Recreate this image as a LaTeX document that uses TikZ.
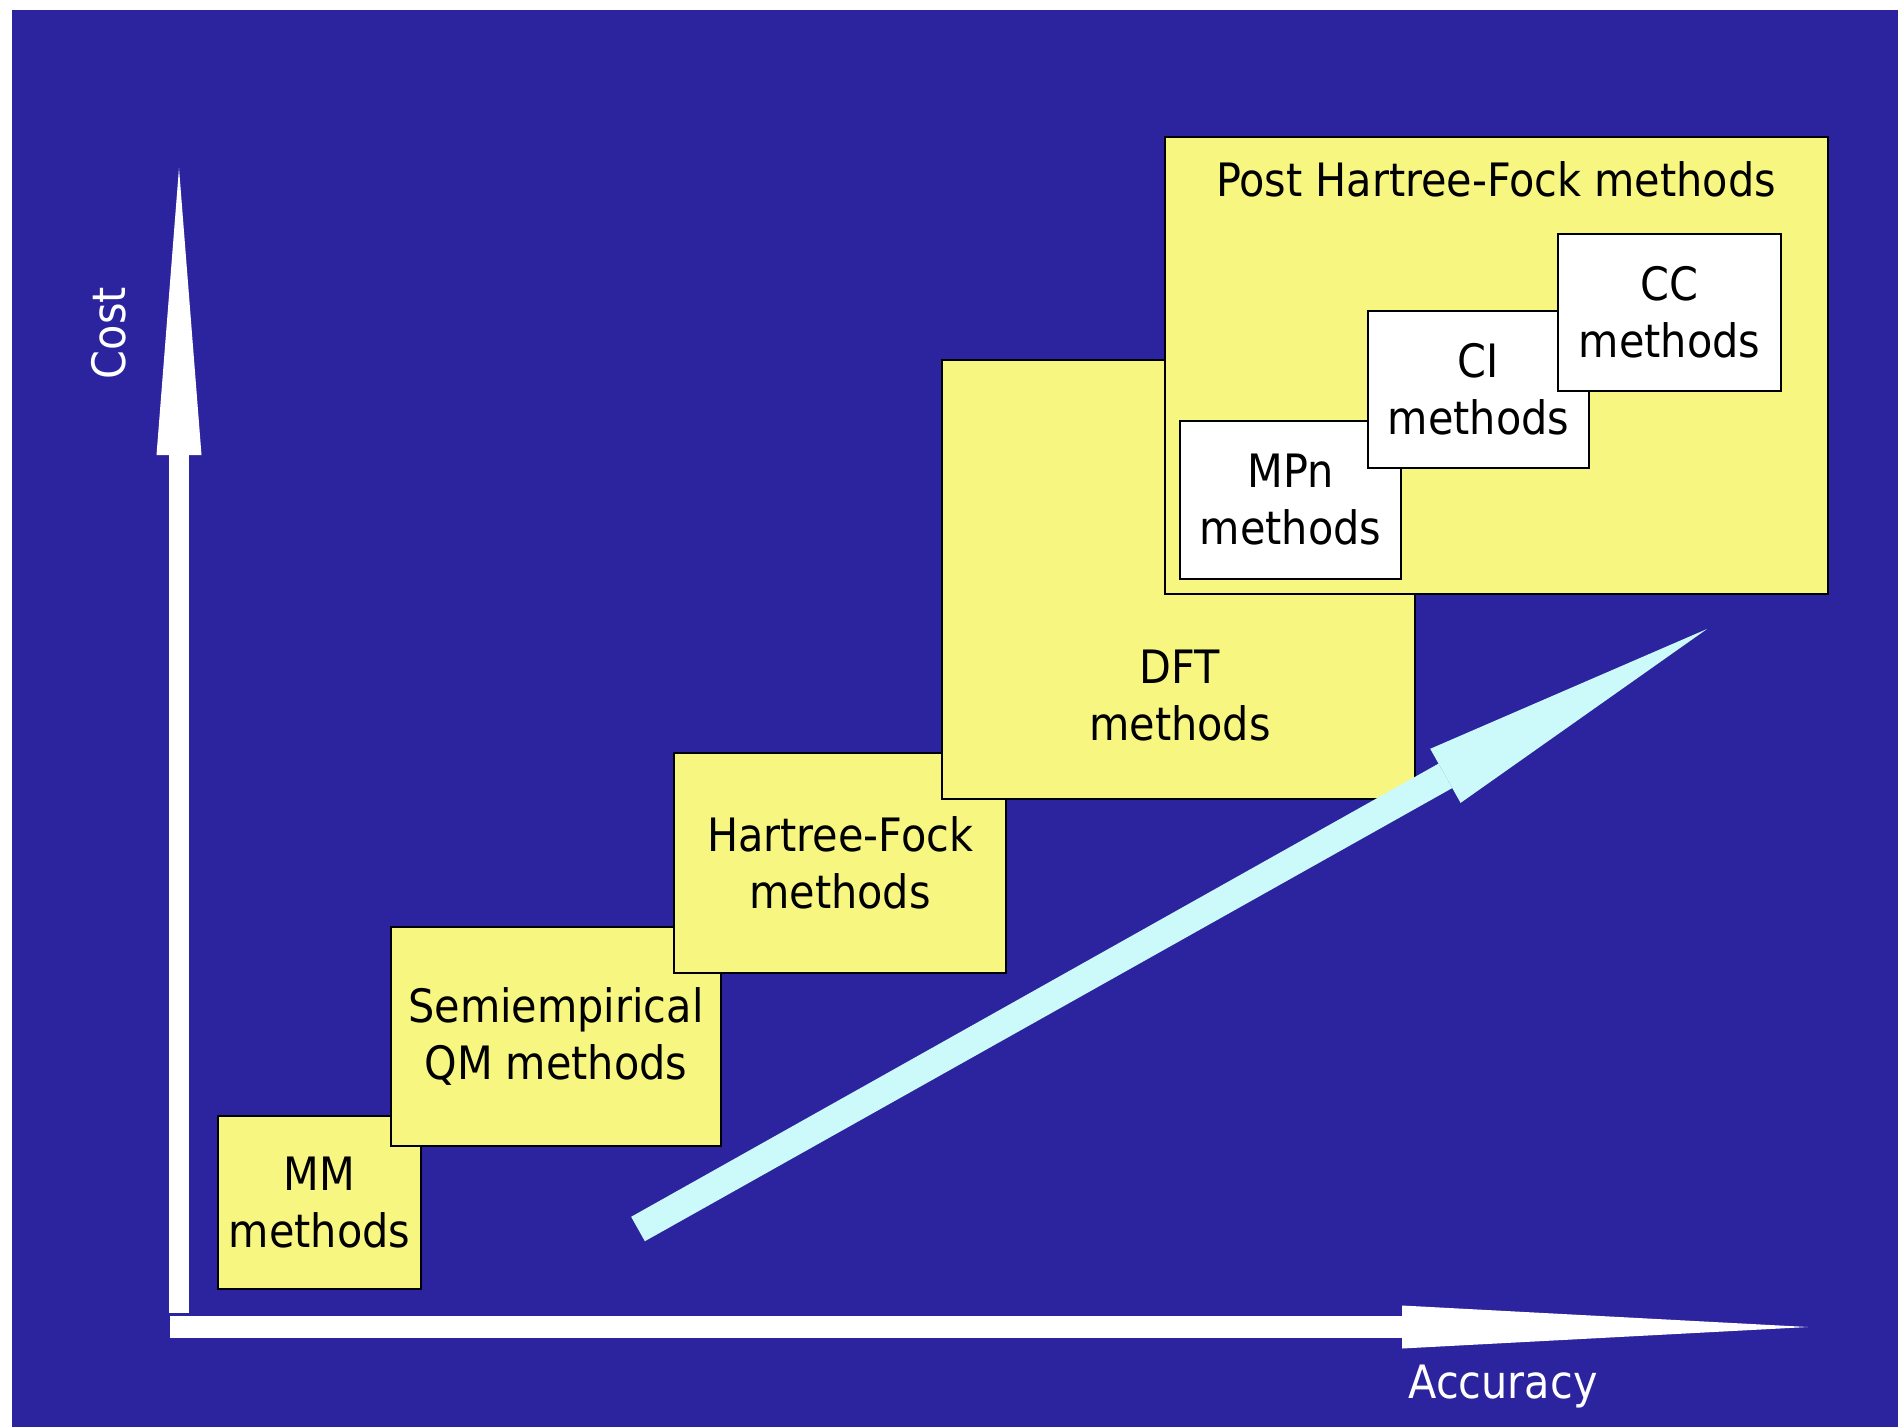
\documentclass[tikz,border=0pt]{standalone}
\usepackage{fontspec}
\setmainfont{DejaVu Sans Condensed}
\usepackage{tikz}
\usetikzlibrary{arrows.meta,positioning}

\definecolor{slideblue}{RGB}{44,36,158}
\definecolor{boxyellow}{RGB}{246,246,128}
\definecolor{trendcyan}{RGB}{204,250,250}

\tikzset{
  methodbox/.style={draw=black, line width=2.5pt, fill=boxyellow, align=center, inner sep=0pt},
  subbox/.style={methodbox, fill=white},
  axisline/.style={white, line width=20pt},
}

\begin{document}
\begin{tikzpicture}[x=1pt, y=-1pt, font=\fontsize{46}{57}\selectfont]
  \useasboundingbox (0,0) rectangle (1898,1427);
  \fill[white] (0,0) rectangle (1898,1427);
  \fill[slideblue] (12,10) rectangle (1898,1427);
  \coordinate (origin) at (179,1313);
  \coordinate (costtip) at (179,168);
  \coordinate (accstart) at (170,1327);
  \coordinate (acctip) at (1808,1327);
  \draw[axisline, -{Triangle[length=287pt, width=45pt, line width=0pt]}] (origin) -- (costtip);
  \draw[axisline, line width=22pt, -{Triangle[length=406pt, width=43pt, line width=0pt]}] (accstart) -- (acctip);
  \node[white, rotate=90] (cost) at (109,333) {Cost};
  \node[white] (accuracy) at (1503,1386) {Accuracy};
  \node[methodbox, minimum width=203pt, minimum height=173pt] (mm) at (319.5,1202.5) {MM\\methods};
  \node[methodbox, minimum width=330pt, minimum height=219pt] (semi) at (556,1036.5) {Semiempirical\\QM methods};
  \node[methodbox, minimum width=332pt, minimum height=220pt] (hf) at (840,863) {Hartree-Fock\\methods};
  \node[methodbox, minimum width=473pt, minimum height=439pt] (dft) at (1178.5,579.5) {};
  \node[align=center] (dfttext) at (1180,696) {DFT\\methods};
  \node[methodbox, minimum width=663pt, minimum height=457pt] (posthf) at (1496.5,365.5) {};
  \node (posthftext) at (1496,179) {Post Hartree-Fock methods};
  \node[subbox, minimum width=221pt, minimum height=158pt] (mpn) at (1290.5,500) {MPn\\methods};
  \node[subbox, minimum width=221pt, minimum height=157pt] (ci) at (1478.5,389.5) {CI\\methods};
  \node[subbox, minimum width=223pt, minimum height=157pt] (cc) at (1669.5,312.5) {CC\\methods};
  \coordinate (trendtail) at (638,1229);
  \coordinate (trendtip) at (1707,629);
  \draw[trendcyan, line width=28pt, -{Triangle[length=300pt, width=62pt, line width=0pt]}] (trendtail) -- (trendtip);
\end{tikzpicture}
\end{document}
